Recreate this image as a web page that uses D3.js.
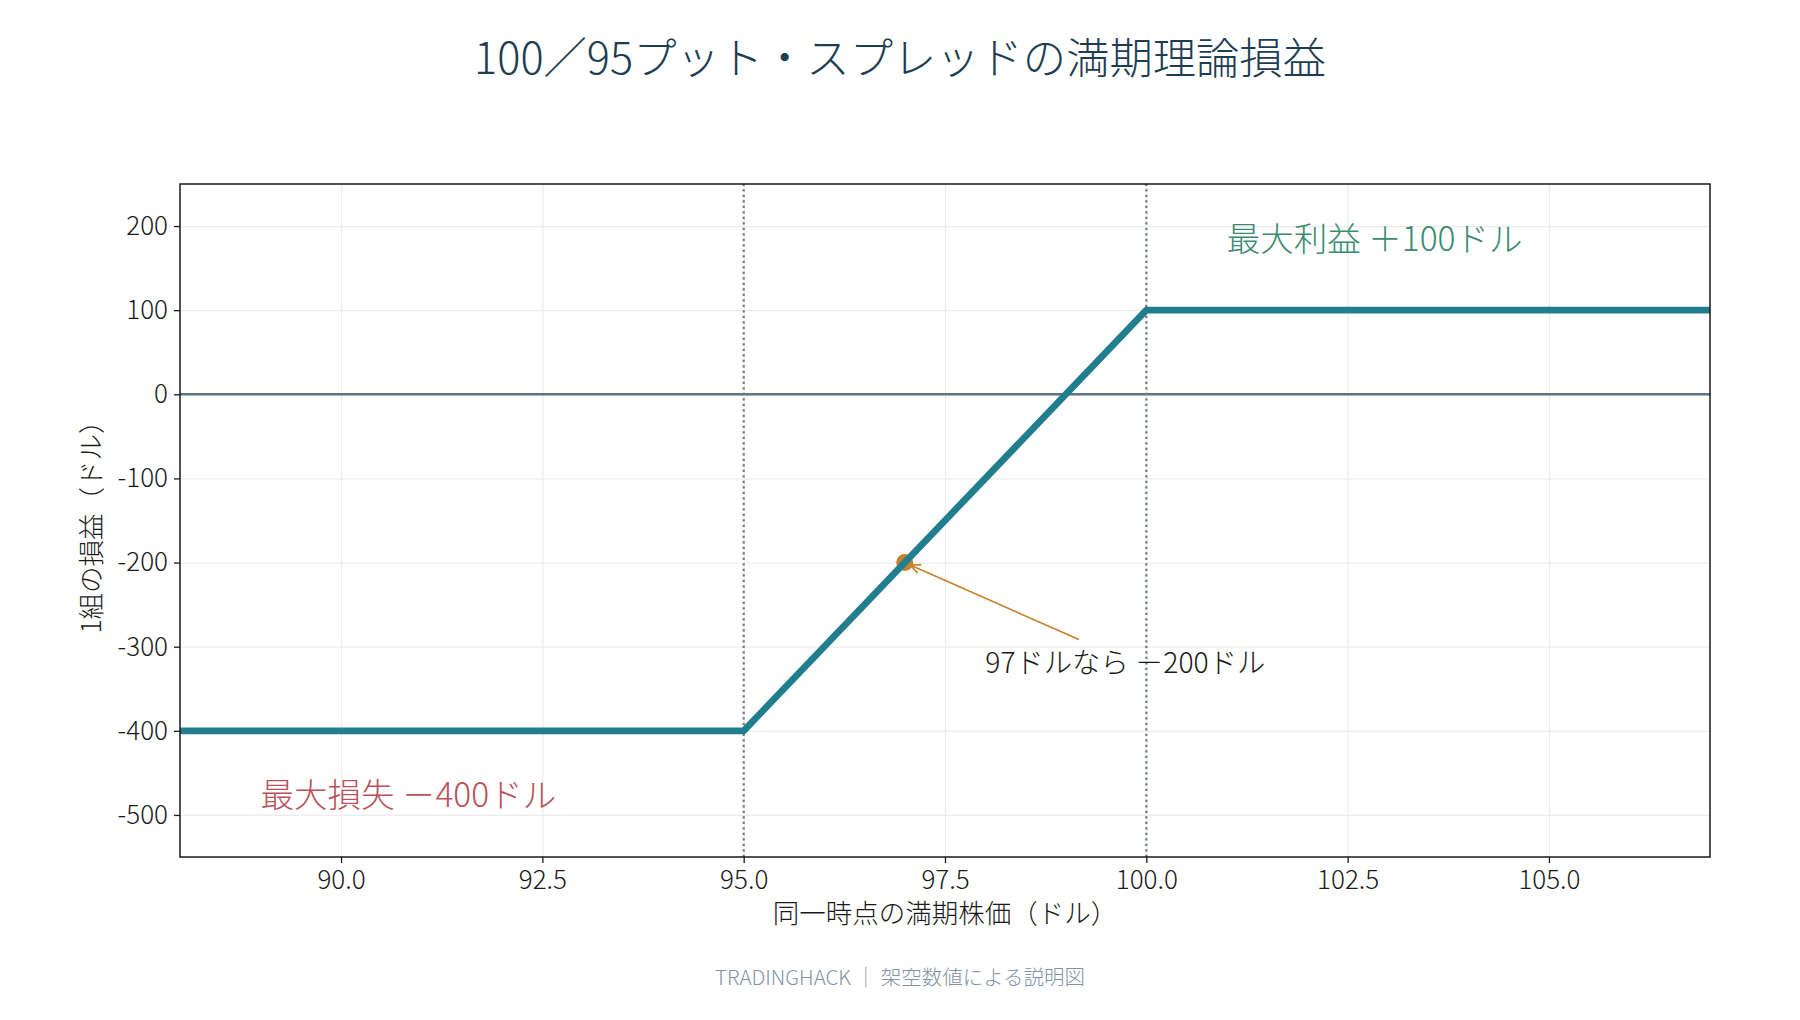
<!DOCTYPE html>
<html>
<head>
<meta charset="utf-8">
<script src="https://cdn.jsdelivr.net/npm/d3@7"></script>
<style>
  body { margin: 0; background: #fff; }
  svg { display: block; font-family: "Noto Sans CJK JP", "Noto Sans", sans-serif; font-weight: 300; }
</style>
</head>
<body>
<svg id="svg1"></svg>
<script>
// payoff at expiry for one 100/95 put spread
const prices = [88, 95, 100, 107];
const pnl = [-400, -400, 100, 100];
const strikes = [95, 100];
const xTicks = [90, 92.5, 95, 97.5, 100, 102.5, 105];
const yTicks = [-500, -400, -300, -200, -100, 0, 100, 200];
const xDomain = [88, 107];
const yDomain = [-550, 250];
const example = [97, -200];

const titleText = "100／95プット・スプレッドの満期理論損益";
const xLabel = "同一時点の満期株価（ドル）";
const yLabel = "1組の損益（ドル）";
const footer = "TRADINGHACK ｜ 架空数値による説明図";
const gainText = "最大利益 ＋100ドル";
const gainAt = [101, 186];
const lossText = "最大損失 －400ドル";
const lossAt = [89, -475];
const noteText = "97ドルなら －200ドル";
const noteAt = [98, -318];

const width = 1800;
const height = 1020;
const margin = {top: 184, right: 90, bottom: 163, left: 180};

const x = d3.scaleLinear(xDomain, [margin.left, width - margin.right]);
const y = d3.scaleLinear(yDomain, [height - margin.bottom, margin.top]);

const svg = d3.select("#svg1")
    .attr("width", width)
    .attr("height", height)
    .attr("viewBox", [0, 0, width, height]);

svg.append("defs").append("clipPath")
    .attr("id", "plot-clip")
    .append("rect")
    .attr("x", x.range()[0]).attr("y", y.range()[1])
    .attr("width", x.range()[1] - x.range()[0])
    .attr("height", y.range()[0] - y.range()[1]);

svg.select("defs").append("marker")
    .attr("id", "head")
    .attr("viewBox", "0 0 12 12")
    .attr("refX", 11).attr("refY", 6)
    .attr("markerWidth", 12).attr("markerHeight", 12)
    .attr("markerUnits", "userSpaceOnUse")
    .attr("orient", "auto")
    .append("path")
    .attr("d", "M1,1.5L11,6L1,10.5")
    .attr("fill", "none")
    .attr("stroke", "#c8802a")
    .attr("stroke-width", 1.6);

// grid
svg.append("g")
    .attr("transform", `translate(0,${y.range()[0]})`)
    .call(d3.axisBottom(x).tickValues(xTicks).tickSize(-(y.range()[0] - y.range()[1])).tickFormat(""))
    .call(g => g.select(".domain").remove())
    .call(g => g.selectAll("line").attr("stroke", "#ececec").attr("stroke-width", 1.2));

svg.append("g")
    .attr("transform", `translate(${x.range()[0]},0)`)
    .call(d3.axisLeft(y).tickValues(yTicks).tickSize(-(x.range()[1] - x.range()[0])).tickFormat(""))
    .call(g => g.select(".domain").remove())
    .call(g => g.selectAll("line").attr("stroke", "#ececec").attr("stroke-width", 1.2));

const plot = svg.append("g").attr("clip-path", "url(#plot-clip)");

// zero line
plot.append("line")
    .attr("x1", x.range()[0]).attr("x2", x.range()[1])
    .attr("y1", y(0)).attr("y2", y(0))
    .attr("stroke", "#607482")
    .attr("stroke-width", 2.6);

// strikes
plot.selectAll(".strike")
    .data(strikes)
    .join("line")
    .attr("class", "strike")
    .attr("x1", d => x(d)).attr("x2", d => x(d))
    .attr("y1", y.range()[0]).attr("y2", y.range()[1])
    .attr("stroke", "#6b7a88")
    .attr("stroke-width", 2.2)
    .attr("stroke-dasharray", "2.2 3.3");

// example point
plot.append("circle")
    .attr("cx", x(example[0]))
    .attr("cy", y(example[1]))
    .attr("r", 8.5)
    .attr("fill", "#c8802a");

plot.append("path")
    .datum(prices.map((p, i) => [p, pnl[i]]))
    .attr("fill", "none")
    .attr("stroke", "#217e8f")
    .attr("stroke-width", 6.8)
    .attr("stroke-linejoin", "round")
    .attr("d", d3.line().x(d => x(d[0])).y(d => y(d[1])));

// frame
svg.append("rect")
    .attr("x", x.range()[0]).attr("y", y.range()[1])
    .attr("width", x.range()[1] - x.range()[0])
    .attr("height", y.range()[0] - y.range()[1])
    .attr("fill", "none")
    .attr("stroke", "#1a1a1a")
    .attr("stroke-width", 1.5);

// axes
const styleAxis = g => g
    .attr("font-family", null)
    .attr("font-size", null)
    .call(g => g.select(".domain").remove())
    .call(g => g.selectAll("line").attr("stroke", "#1a1a1a").attr("stroke-width", 1.3))
    .call(g => g.selectAll("text").attr("font-size", 26).attr("fill", "#1a1a1a"));

svg.append("g")
    .attr("transform", `translate(0,${y.range()[0]})`)
    .call(d3.axisBottom(x).tickValues(xTicks).tickSize(6).tickPadding(8).tickFormat(d => d.toFixed(1)))
    .call(styleAxis);

svg.append("g")
    .attr("transform", `translate(${x.range()[0]},0)`)
    .call(d3.axisLeft(y).tickValues(yTicks).tickSize(6).tickPadding(6).tickFormat(d => String(d)))
    .call(styleAxis);

svg.append("text")
    .attr("x", (x.range()[0] + x.range()[1]) / 2)
    .attr("y", 923)
    .attr("text-anchor", "middle")
    .attr("font-size", 26.5)
    .attr("fill", "#1a1a1a")
    .text(xLabel);

svg.append("text")
    .attr("transform", `translate(101,${(y.range()[0] + y.range()[1]) / 2}) rotate(-90)`)
    .attr("text-anchor", "middle")
    .attr("font-size", 26.5)
    .attr("fill", "#1a1a1a")
    .text(yLabel);

svg.append("text")
    .attr("x", width / 2)
    .attr("y", 74)
    .attr("text-anchor", "middle")
    .attr("font-size", 43.3)
    .attr("fill", "#1d3d53")
    .text(titleText);

svg.append("text")
    .attr("x", width / 2)
    .attr("y", 985)
    .attr("text-anchor", "middle")
    .attr("font-size", 20.5)
    .attr("fill", "#8393a3")
    .text(footer);

// callouts
svg.append("text")
    .attr("x", x(gainAt[0])).attr("y", y(gainAt[1]))
    .attr("dy", "0.38em")
    .attr("font-size", 33.5)
    .attr("fill", "#3a8b72")
    .text(gainText);

svg.append("text")
    .attr("x", x(lossAt[0])).attr("y", y(lossAt[1]))
    .attr("dy", "0.38em")
    .attr("font-size", 33.5)
    .attr("fill", "#b9525c")
    .text(lossText);

const note = svg.append("text")
    .attr("x", x(noteAt[0])).attr("y", y(noteAt[1]))
    .attr("dy", "0.38em")
    .attr("font-size", 28.3)
    .attr("fill", "#1a1a1a")
    .text(noteText);

// arrow from the note box toward the example point
const box = note.node().getBBox();
const cx = box.x + box.width / 2, cy = box.y + box.height / 2;
const px = x(example[0]), py = y(example[1]);
const t = (box.y - cy) / (py - cy);
const sx = cx + (px - cx) * t, sy = box.y;
const len = Math.hypot(px - sx, py - sy);
const shrink = 6;
svg.append("line")
    .attr("x1", sx).attr("y1", sy)
    .attr("x2", px - (px - sx) / len * shrink)
    .attr("y2", py - (py - sy) / len * shrink)
    .attr("stroke", "#c8802a")
    .attr("stroke-width", 1.6)
    .attr("marker-end", "url(#head)");
</script>
</body>
</html>
